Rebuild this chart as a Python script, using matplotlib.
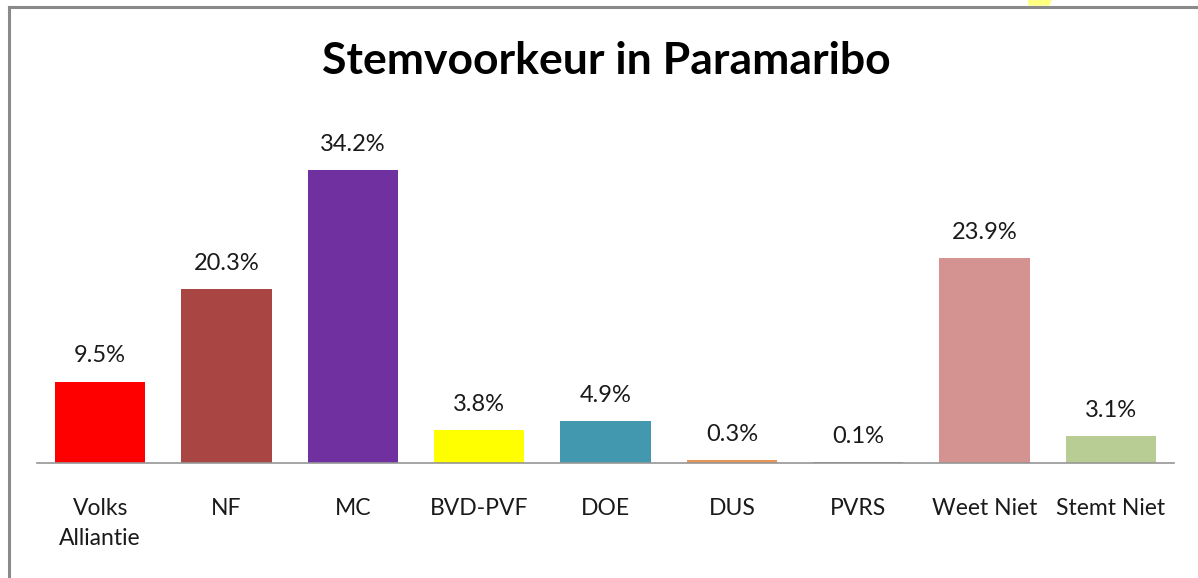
import matplotlib.pyplot as plt
from matplotlib.lines import Line2D
from matplotlib.patches import Polygon

parties = ['Volks\nAlliantie', 'NF', 'MC', 'BVD-PVF', 'DOE', 'DUS', 'PVRS', 'Weet Niet', 'Stemt Niet']
percent = [9.5, 20.3, 34.2, 3.8, 4.9, 0.3, 0.1, 23.9, 3.1]
colors = ['#FF0000', '#A94644', '#7030A0', '#FFFF00', '#4298AF', '#E8955A', '#8C8C8C', '#D49291', '#B8CD94']

plt.rcParams['font.family'] = ['Lato', 'DejaVu Sans']

fig = plt.figure(figsize=(11.98, 5.78), dpi=100)
W, H = 1198.0, 578.0
ax = fig.add_axes([37 / W, (H - 463) / H, (1174 - 37) / W, 343 / H])

x = range(len(parties))
ax.bar(x, percent, width=0.713, color=colors)
for i, v in enumerate(percent):
    ax.text(i, v + 3.0, '%.1f%%' % v, ha='center', va='center', fontsize=17, color='#1a1a1a')

ax.set_xlim(-0.5, len(parties) - 0.5)
ax.set_ylim(0, 40)
ax.set_yticks([])
ax.set_xticks(list(x))
ax.set_xticklabels(parties, fontsize=16.5, color='#1a1a1a', linespacing=1.55)
ax.tick_params(axis='x', length=0, pad=25)
for s in ['top', 'right', 'left']:
    ax.spines[s].set_visible(False)
ax.spines['bottom'].set_color('#969696')
ax.spines['bottom'].set_linewidth(1.2)

fig.text(606 / W, 1 - 61 / H, 'Stemvoorkeur in Paramaribo', ha='center', va='center',
         fontsize=32, fontweight='bold', color='black')

# frame of the slide
fig.add_artist(Line2D([8.5 / W, 8.5 / W], [0, 1 - 7 / H], color='#8A8A8A', lw=2.2, transform=fig.transFigure))
fig.add_artist(Line2D([8.5 / W, 1], [1 - 7 / H, 1 - 7 / H], color='#8A8A8A', lw=2.2, transform=fig.transFigure))
fig.add_artist(Polygon([[1029 / W, 1], [1051 / W, 1], [1049 / W, 1 - 5 / H], [1029 / W, 1 - 5 / H]],
                       closed=True, color='#FFFF80', transform=fig.transFigure))

fig.savefig('out.png', dpi=100)
